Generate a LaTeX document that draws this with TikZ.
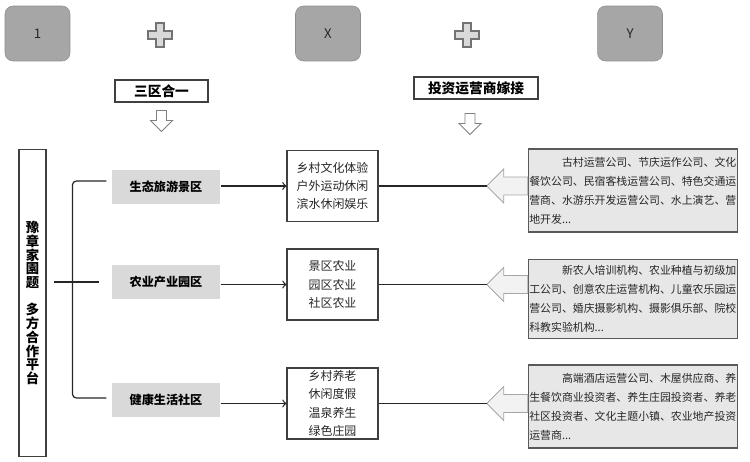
\documentclass[tikz,border=0pt]{standalone}
\usepackage{fontspec}
\setmainfont{Noto Sans CJK SC}
\usepackage{tikz}
\usetikzlibrary{positioning}
\usetikzlibrary{arrows}
\usepackage{xcolor}
\definecolor{topgray}{HTML}{A6A6A6}
\definecolor{catgray}{HTML}{D9D9D9}
\definecolor{infogray}{HTML}{E8E7E7}
\definecolor{arrgray}{HTML}{F2F2F2}
\definecolor{ink}{HTML}{262626}

\begin{document}
\begin{tikzpicture}[x=0.02cm, y=-0.02cm, line width=0.7pt, draw=ink,
	top/.style={rounded corners=0.16cm, fill=topgray, draw=topgray!85!black, line width=0.3pt,
		minimum width=1.3cm, minimum height=1.1cm, font=\fontsize{7.5}{8}\selectfont, text=ink},
	plus/.style={fill=catgray, draw=black!55, line width=0.6pt},
	hollow/.style={fill=white, draw=black!50, line width=0.5pt},
	labelbox/.style={draw=black!75, line width=0.6pt, fill=white, inner sep=0,
		minimum height=0.44cm, font=\bfseries\fontsize{7.8}{8}\selectfont},
	cat/.style={fill=catgray, minimum width=2.16cm, minimum height=0.68cm, inner sep=0,
		font=\bfseries\fontsize{6.9}{8}\selectfont},
	detail/.style={draw=black!75, line width=0.6pt, minimum width=1.82cm, minimum height=1.42cm,
		inner sep=0, align=center, font=\fontsize{6.8}{10.4}\selectfont, text=black!85},
	info/.style={draw=black!65, line width=0.6pt, fill=infogray, text width=118pt, inner xsep=0.6pt,
		align=left, font=\fontsize{6.2}{10.8}\selectfont, text=ink},
	block/.style={fill=arrgray, draw=black!35, line width=0.5pt}]
	\useasboundingbox (0,0) rectangle (750,462);

	\node [top] (one) at (37.5,33.5) {1};
	\node [top] (xx) at (328,33.5) {X};
	\node [top] (yy) at (630,33.5) {Y};
	\foreach \px in {160,467}
		\draw [plus] (\px,35) ++(-4,-12) -- ++(8,0) -- ++(0,8) -- ++(8,0) -- ++(0,8) -- ++(-8,0)
			-- ++(0,8) -- ++(-8,0) -- ++(0,-8) -- ++(-8,0) -- ++(0,-8) -- ++(8,0) -- cycle;

	\node [labelbox, minimum width=1.86cm] (merge) at (161.5,91) {三区合一};
	\node [labelbox, minimum width=2.48cm] (invest) at (476,88) {投资运营商嫁接};
	\draw [hollow] (merge.south) ++(-5,8) -- ++(10,0) -- ++(0,10) -- ++(6,0) -- ++(-11,11) -- ++(-11,-11) -- ++(6,0) -- cycle;
	\draw [hollow] (invest.south) ++(-11,14) -- ++(10,0) -- ++(0,10) -- ++(6,0) -- ++(-11,11) -- ++(-11,-11) -- ++(6,0) -- cycle;

	\node [draw=black!75, line width=0.6pt, minimum width=0.54cm, minimum height=6.16cm, inner sep=0,
		align=center, font=\bfseries\fontsize{7.6}{7.8}\selectfont] (plat) at (32.5,303)
		{豫\\章\\家\\園\\题\\[7.8pt]多\\方\\合\\作\\平\\台};

	\node [cat] (tour) at (166,187) {生态旅游景区};
	\node [cat] (farm) at (166,282) {农业产业园区};
	\node [cat] (life) at (166,400) {健康生活社区};

	\draw [shorten <=0.14cm, shorten >=0.24cm] (plat.east |- farm.west) -- (farm.west);
	\draw [rounded corners=0.08cm] ([xshift=-0.1cm, yshift=0.12cm]tour.west) -- ([xshift=-0.78cm, yshift=0.12cm]tour.west)
		-- ([xshift=-0.78cm, yshift=0.04cm]life.west) -- ([xshift=-0.1cm, yshift=0.04cm]life.west);

	\node [detail] (tourd) at (332.5,186) {乡村文化体验\\户外运动休闲\\滨水休闲娱乐};
	\node [detail] (farmd) at (332.5,284.5) {景区农业\\园区农业\\社区农业};
	\node [detail] (lifed) at (332.5,403.5) {乡村养老\\休闲度假\\温泉养生\\绿色庄园};

	\node [info, minimum height=1.66cm] (tourp) at (633,190.5) {\hspace*{3em}古村运营公司、节庆运作公司、文化\\餐饮公司、民宿客栈运营公司、特色交通运\\营商、水游乐开发运营公司、水上演艺、营\\地开发...};
	\node [info, minimum height=1.56cm] (farmp) at (633,299) {\hspace*{3em}新农人培训机构、农业种植与初级加\\工公司、创意农庄运营机构、儿童农乐园运\\营公司、婚庆摄影机构、摄影俱乐部、院校\\科教实验机构...};
	\node [info, minimum height=1.66cm] (lifep) at (633,406.5) {\hspace*{3em}高端酒店运营公司、木屋供应商、养\\生餐饮商业投资者、养生庄园投资者、养老\\社区投资者、文化主题小镇、农业地产投资\\运营商...};

	\foreach \a/\b/\c in {tour/tourd/tourp, farm/farmd/farmp, life/lifed/lifep} {
		\draw [->] (\a.east |- \b.west) -- (\b.west);
		\path (\b.east -| \c.west) ++(-41,0) coordinate (tip-\b);
		\draw [block] (tip-\b) -- ++(17,-17) -- ++(0,8) -- ++(24,0) -- ++(0,18) -- ++(-24,0) -- ++(0,8) -- cycle;
		\draw (\b.east) -- (tip-\b);
	}
\end{tikzpicture}
\end{document}
